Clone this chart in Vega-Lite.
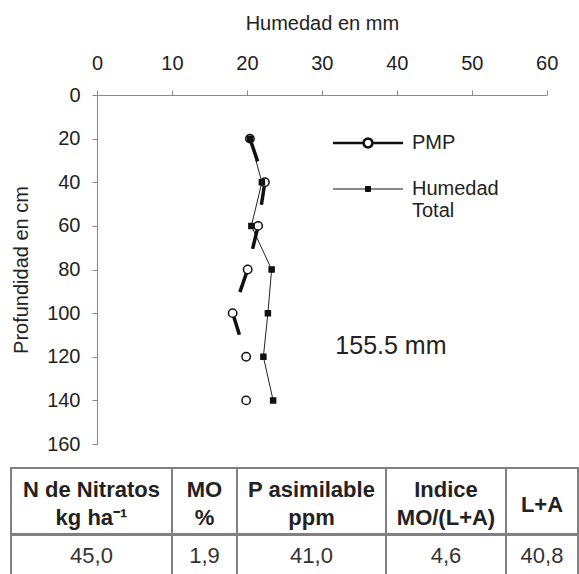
{
  "$schema": "https://vega.github.io/schema/vega-lite/v6.json",
  "padding": {"left": 10, "top": 13, "right": 0, "bottom": 0},
  "bounds": "flush",
  "spacing": 24,
  "resolve": {"legend": {"strokeWidth": "independent"}},
  "config": {"font": "Liberation Sans", "view": {"stroke": null}},
  "datasets": {
    "perfil": [
      {"serie": "PMP", "profundidad": 20, "humedad": 20.4},
      {"serie": "PMP", "profundidad": 40, "humedad": 22.4},
      {"serie": "PMP", "profundidad": 60, "humedad": 21.5},
      {"serie": "PMP", "profundidad": 80, "humedad": 20.1},
      {"serie": "PMP", "profundidad": 100, "humedad": 18.1},
      {"serie": "PMP", "profundidad": 120, "humedad": 19.9},
      {"serie": "PMP", "profundidad": 140, "humedad": 19.9},
      {"serie": "Humedad Total", "profundidad": 20, "humedad": 20.4},
      {"serie": "Humedad Total", "profundidad": 40, "humedad": 22.0},
      {"serie": "Humedad Total", "profundidad": 60, "humedad": 20.6},
      {"serie": "Humedad Total", "profundidad": 80, "humedad": 23.3},
      {"serie": "Humedad Total", "profundidad": 100, "humedad": 22.8},
      {"serie": "Humedad Total", "profundidad": 120, "humedad": 22.2},
      {"serie": "Humedad Total", "profundidad": 140, "humedad": 23.5}
    ],
    "tabla": [
      {"columna": 1, "encabezado": "N de Nitratos\nkg ha⁻¹", "valor": "45,0"},
      {"columna": 2, "encabezado": "MO\n%", "valor": "1,9"},
      {"columna": 3, "encabezado": "P asimilable\nppm", "valor": "41,0"},
      {"columna": 4, "encabezado": "Indice\nMO/(L+A)", "valor": "4,6"},
      {"columna": 5, "encabezado": "L+A", "valor": "40,8"}
    ],
    "anotacion": [{"texto": "155.5 mm"}]
  },
  "vconcat": [
    {
      "width": 536,
      "height": 349,
      "view": {"stroke": null},
      "layer": [
        {
          "data": {"name": "perfil"},
          "transform": [{"filter": "datum.serie == 'Humedad Total'"}],
          "mark": {"type": "line", "stroke": "#222"},
          "encoding": {
            "x": {
              "field": "humedad", "type": "quantitative",
              "scale": {"domain": [0, 60], "range": [86, 535.7], "nice": false, "zero": false},
              "axis": {
                "orient": "top", "title": "Humedad en mm", "values": [0, 10, 20, 30, 40, 50, 60],
                "grid": false, "domainColor": "#888", "tickColor": "#888", "tickSize": 5,
                "labelFontSize": 20, "labelColor": "#222", "labelPadding": 17, "labelFlush": false,
                "titleFontSize": 20, "titleFontWeight": "normal", "titleColor": "#222", "titlePadding": 20
              }
            },
            "y": {
              "field": "profundidad", "type": "quantitative",
              "scale": {"domain": [0, 160], "reverse": true, "nice": false},
              "axis": {
                "orient": "left", "offset": -86, "title": "Profundidad en cm",
                "values": [0, 20, 40, 60, 80, 100, 120, 140, 160],
                "grid": false, "domainColor": "#888", "tickColor": "#888", "tickSize": 5,
                "labelFontSize": 20, "labelColor": "#222", "labelPadding": 12, "labelFlush": false,
                "titleFontSize": 20, "titleFontWeight": "normal", "titleColor": "#222", "titlePadding": 15
              }
            },
            "order": {"field": "profundidad", "type": "quantitative"},
            "strokeWidth": {
              "field": "serie", "type": "nominal",
              "scale": {"domain": ["PMP", "Humedad Total"], "range": [2.5, 1]},
              "legend": {
                "orient": "none", "legendX": 347, "legendY": 38, "title": null, "padding": 0,
                "symbolSize": 100, "labelOffset": 34, "labelFontSize": 20, "labelColor": "#222",
                "rowPadding": 26,
                "symbolType": {"expr": "datum.value == 'PMP' ? 'M-7,0H-0.9M0.9,0H7M0.9,0L0.78,0.45L0.45,0.78L0,0.9L-0.45,0.78L-0.78,0.45L-0.9,0L-0.78,-0.45L-0.45,-0.78L0,-0.9L0.45,-0.78L0.78,-0.45Z' : 'M-7,0H7M-0.5,-0.5H0.5V0.5H-0.5Z'"},
                "symbolFillColor": {"expr": "datum.value == 'PMP' ? 'white' : '#111'"},
                "symbolStrokeColor": "#111",
                "labelExpr": "datum.label == 'Humedad Total' ? ['Humedad', 'Total'] : datum.label"
              }
            }
          }
        },
        {
          "data": {"name": "perfil"},
          "transform": [{"filter": "datum.serie == 'PMP' && datum.profundidad <= 120"}],
          "mark": {"type": "line", "stroke": "#111", "strokeWidth": 3.5, "strokeDash": [24, 21]},
          "encoding": {
            "x": {"field": "humedad", "type": "quantitative"},
            "y": {"field": "profundidad", "type": "quantitative"},
            "order": {"field": "profundidad", "type": "quantitative"}
          }
        },
        {
          "data": {"name": "anotacion"},
          "mark": {"type": "text", "align": "left", "baseline": "middle", "fontSize": 25, "fill": "#222"},
          "encoding": {
            "x": {"datum": 31.8},
            "y": {"datum": 115},
            "text": {"field": "texto", "type": "nominal"}
          }
        },
        {
          "data": {"name": "perfil"},
          "mark": {"type": "point", "filled": true, "opacity": 1, "stroke": "#111", "strokeWidth": 1.5},
          "encoding": {
            "x": {"field": "humedad", "type": "quantitative"},
            "y": {"field": "profundidad", "type": "quantitative"},
            "shape": {"condition": {"test": "datum.serie == 'PMP'", "value": "circle"}, "value": "square"},
            "fill": {"condition": {"test": "datum.serie == 'PMP'", "value": "white"}, "value": "#111"},
            "size": {"condition": {"test": "datum.serie == 'PMP'", "value": 70}, "value": 25}
          }
        }
      ]
    },
    {
      "bounds": "full",
      "spacing": -2,
      "vconcat": [
        {
          "bounds": "flush",
          "spacing": 0,
          "hconcat": [
            {"width": 161, "height": 66, "view": {"stroke": "#808080", "strokeWidth": 2}, "data": {"name": "tabla"}, "transform": [{"filter": "datum.columna == 1"}], "mark": {"type": "text", "fontSize": 22, "fontWeight": "bold", "lineBreak": "\n", "lineHeight": 28, "dy": -11, "color": "#222"}, "encoding": {"text": {"field": "encabezado", "type": "nominal"}}},
            {"width": 65, "height": 66, "view": {"stroke": "#808080", "strokeWidth": 2}, "data": {"name": "tabla"}, "transform": [{"filter": "datum.columna == 2"}], "mark": {"type": "text", "fontSize": 22, "fontWeight": "bold", "lineBreak": "\n", "lineHeight": 28, "dy": -11, "color": "#222"}, "encoding": {"text": {"field": "encabezado", "type": "nominal"}}},
            {"width": 149, "height": 66, "view": {"stroke": "#808080", "strokeWidth": 2}, "data": {"name": "tabla"}, "transform": [{"filter": "datum.columna == 3"}], "mark": {"type": "text", "fontSize": 22, "fontWeight": "bold", "lineBreak": "\n", "lineHeight": 28, "dy": -11, "color": "#222"}, "encoding": {"text": {"field": "encabezado", "type": "nominal"}}},
            {"width": 120, "height": 66, "view": {"stroke": "#808080", "strokeWidth": 2}, "data": {"name": "tabla"}, "transform": [{"filter": "datum.columna == 4"}], "mark": {"type": "text", "fontSize": 22, "fontWeight": "bold", "lineBreak": "\n", "lineHeight": 28, "dy": -11, "color": "#222"}, "encoding": {"text": {"field": "encabezado", "type": "nominal"}}},
            {"width": 72, "height": 66, "view": {"stroke": "#808080", "strokeWidth": 2}, "data": {"name": "tabla"}, "transform": [{"filter": "datum.columna == 5"}], "mark": {"type": "text", "fontSize": 22, "fontWeight": "bold", "dy": 4, "color": "#222"}, "encoding": {"text": {"field": "encabezado", "type": "nominal"}}}
          ]
        },
        {
          "bounds": "flush",
          "spacing": 0,
          "hconcat": [
            {"width": 161, "height": 44, "view": {"stroke": "#808080", "strokeWidth": 2}, "data": {"name": "tabla"}, "transform": [{"filter": "datum.columna == 1"}], "mark": {"type": "text", "fontSize": 22, "dy": -1, "color": "#333"}, "encoding": {"text": {"field": "valor", "type": "nominal"}}},
            {"width": 65, "height": 44, "view": {"stroke": "#808080", "strokeWidth": 2}, "data": {"name": "tabla"}, "transform": [{"filter": "datum.columna == 2"}], "mark": {"type": "text", "fontSize": 22, "dy": -1, "color": "#333"}, "encoding": {"text": {"field": "valor", "type": "nominal"}}},
            {"width": 149, "height": 44, "view": {"stroke": "#808080", "strokeWidth": 2}, "data": {"name": "tabla"}, "transform": [{"filter": "datum.columna == 3"}], "mark": {"type": "text", "fontSize": 22, "dy": -1, "color": "#333"}, "encoding": {"text": {"field": "valor", "type": "nominal"}}},
            {"width": 120, "height": 44, "view": {"stroke": "#808080", "strokeWidth": 2}, "data": {"name": "tabla"}, "transform": [{"filter": "datum.columna == 4"}], "mark": {"type": "text", "fontSize": 22, "dy": -1, "color": "#333"}, "encoding": {"text": {"field": "valor", "type": "nominal"}}},
            {"width": 72, "height": 44, "view": {"stroke": "#808080", "strokeWidth": 2}, "data": {"name": "tabla"}, "transform": [{"filter": "datum.columna == 5"}], "mark": {"type": "text", "fontSize": 22, "dy": -1, "color": "#333"}, "encoding": {"text": {"field": "valor", "type": "nominal"}}}
          ]
        }
      ]
    }
  ]
}
